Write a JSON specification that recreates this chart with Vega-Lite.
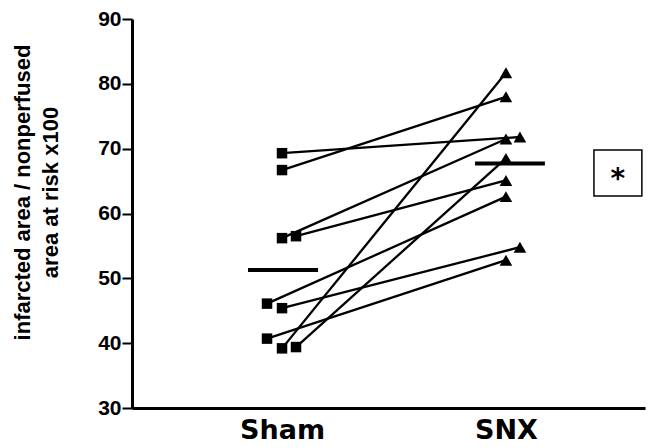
{
  "$schema": "https://vega.github.io/schema/vega-lite/v6.json",
  "width": 513,
  "height": 389,
  "autosize": {"type": "none"},
  "padding": {"left": 132, "top": 19, "right": 5, "bottom": 40},
  "background": "white",
  "config": {
    "view": {"stroke": null},
    "axis": {"grid": false, "domainColor": "black", "tickColor": "black", "labelColor": "black", "titleColor": "black"}
  },
  "datasets": {
    "pts": [
      {"pair": 1, "group": "Sham", "pos": 1.0, "value": 69.3},
      {"pair": 1, "group": "SNX", "pos": 2.0625, "value": 71.8},
      {"pair": 2, "group": "Sham", "pos": 1.0, "value": 66.7},
      {"pair": 2, "group": "SNX", "pos": 2.0, "value": 78.0},
      {"pair": 3, "group": "Sham", "pos": 1.0, "value": 56.2},
      {"pair": 3, "group": "SNX", "pos": 2.0, "value": 71.5},
      {"pair": 4, "group": "Sham", "pos": 1.0625, "value": 56.5},
      {"pair": 4, "group": "SNX", "pos": 2.0, "value": 65.1},
      {"pair": 5, "group": "Sham", "pos": 0.933, "value": 46.1},
      {"pair": 5, "group": "SNX", "pos": 2.0, "value": 62.6},
      {"pair": 6, "group": "Sham", "pos": 1.0, "value": 45.4},
      {"pair": 6, "group": "SNX", "pos": 2.0625, "value": 54.8},
      {"pair": 7, "group": "Sham", "pos": 0.933, "value": 40.7},
      {"pair": 7, "group": "SNX", "pos": 2.0, "value": 52.8},
      {"pair": 8, "group": "Sham", "pos": 1.0, "value": 39.2},
      {"pair": 8, "group": "SNX", "pos": 2.0, "value": 81.7},
      {"pair": 9, "group": "Sham", "pos": 1.0625, "value": 39.4},
      {"pair": 9, "group": "SNX", "pos": 2.0, "value": 68.5}
    ],
    "means": [
      {"group": "Sham", "start": 0.848, "end": 1.161, "mean": 51.3},
      {"group": "SNX", "start": 1.862, "end": 2.174, "mean": 67.7}
    ],
    "annot": [
      {"x1": 2.393, "x2": 2.607, "y1": 62.7, "y2": 69.8, "xc": 2.5, "yc": 66.3, "label": "*"}
    ]
  },
  "layer": [
    {
      "data": {"name": "pts"},
      "mark": {"type": "line", "color": "black", "strokeWidth": 2.3},
      "encoding": {
        "x": {
          "field": "pos", "type": "quantitative",
          "scale": {"domain": [0.33, 2.621], "nice": false, "zero": false},
          "axis": {
            "values": [1, 2], "title": null, "ticks": false,
            "labelExpr": "datum.value == 1 ? 'Sham' : 'SNX'",
            "labelFont": "DejaVu Sans", "labelFontWeight": "bold", "labelFontSize": 27,
            "labelPadding": 9, "domainWidth": 3, "labelAlign": "center"
          }
        },
        "y": {
          "field": "value", "type": "quantitative",
          "scale": {"domain": [30, 90], "nice": false, "zero": false},
          "axis": {
            "values": [30, 40, 50, 60, 70, 80, 90],
            "title": ["infarcted area / nonperfused", "area at risk x100"],
            "titleFont": "Liberation Sans", "titleFontWeight": "bold", "titleFontSize": 22,
            "titleLineHeight": 28, "titleAngle": -90, "titleAlign": "center",
            "titleBaseline": "alphabetic", "titleX": -103, "titleY": 173,
            "labelFont": "Liberation Sans", "labelFontWeight": "bold", "labelFontSize": 21,
            "labelPadding": 1, "tickSize": 10, "tickWidth": 2, "domainWidth": 3
          }
        },
        "detail": {"field": "pair", "type": "nominal"},
        "order": {"field": "pos", "type": "quantitative"}
      }
    },
    {
      "data": {"name": "means"},
      "mark": {"type": "rule", "color": "black", "strokeWidth": 4},
      "encoding": {
        "x": {"field": "start", "type": "quantitative"},
        "x2": {"field": "end"},
        "y": {"field": "mean", "type": "quantitative"}
      }
    },
    {
      "data": {"name": "pts"},
      "mark": {"type": "point", "filled": true, "color": "black", "opacity": 1},
      "encoding": {
        "x": {"field": "pos", "type": "quantitative"},
        "y": {"field": "value", "type": "quantitative"},
        "shape": {
          "field": "group", "type": "nominal",
          "scale": {"domain": ["Sham", "SNX"], "range": ["square", "triangle-up"]},
          "legend": null
        },
        "size": {
          "field": "group", "type": "nominal",
          "scale": {"domain": ["Sham", "SNX"], "range": [110, 160]},
          "legend": null
        }
      }
    },
    {
      "data": {"name": "annot"},
      "mark": {"type": "rect", "fill": null, "fillOpacity": 0, "stroke": "black", "strokeWidth": 1.5},
      "encoding": {
        "x": {"field": "x1", "type": "quantitative"},
        "x2": {"field": "x2"},
        "y": {"field": "y1", "type": "quantitative"},
        "y2": {"field": "y2"}
      }
    },
    {
      "data": {"name": "annot"},
      "mark": {"type": "text", "font": "DejaVu Sans", "fontWeight": "bold", "fontSize": 28, "baseline": "alphabetic", "align": "center", "dy": 15, "color": "black"},
      "encoding": {
        "x": {"field": "xc", "type": "quantitative"},
        "y": {"field": "yc", "type": "quantitative"},
        "text": {"field": "label"}
      }
    }
  ]
}
